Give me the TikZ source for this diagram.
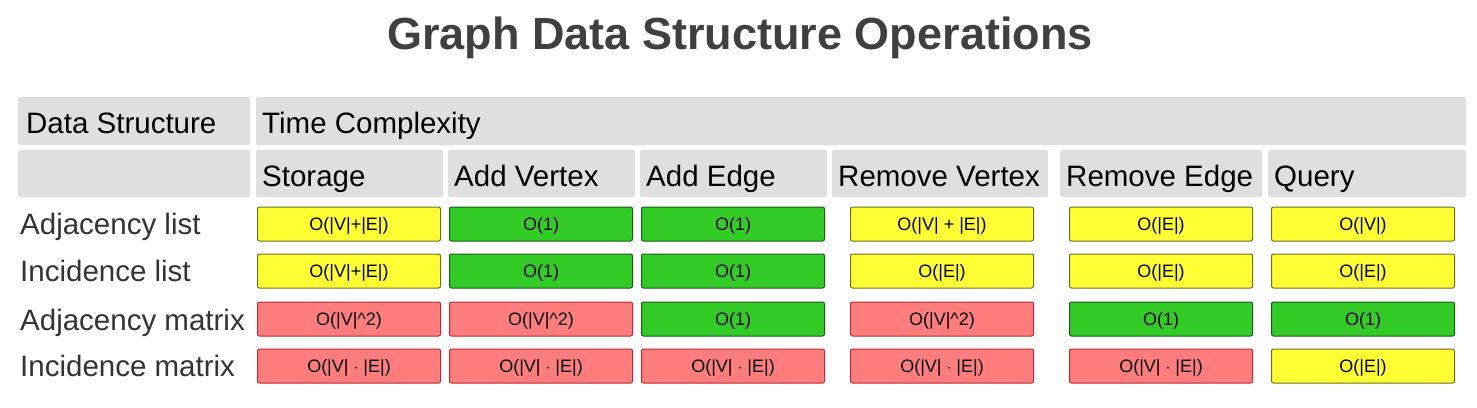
\documentclass[tikz,border=0pt]{standalone}
\usepackage{fontspec}
\setmainfont{Liberation Sans}
\begin{document}
\begin{tikzpicture}[x=1pt,y=-1pt,
 cell/.style={draw,rounded corners=2pt,minimum height=34pt,inner sep=0pt,line width=1pt,font=\fontsize{18}{20}\selectfont,text height=13pt,text depth=1pt},
 Y/.style={cell,fill={rgb,255:red,255;green,255;blue,51},draw={rgb,255:red,110;green,110;blue,30}},
 G/.style={cell,fill={rgb,255:red,51;green,204;blue,38},draw={rgb,255:red,25;green,90;blue,25}},
 R/.style={cell,fill={rgb,255:red,255;green,125;blue,125},draw={rgb,255:red,190;green,40;blue,50}},
 lab/.style={anchor=base west,inner sep=0pt,font=\fontsize{29.5}{31}\selectfont,text=black!80}]
\useasboundingbox (0,0) rectangle (1477,407);
\node[font=\bfseries\fontsize{45}{48}\selectfont,text=black!75] (title) at (740,38) {Graph Data Structure Operations};
% header boxes
\fill[gray!25,rounded corners=2pt] (18,97) rectangle (250,145);
\fill[gray!25,rounded corners=2pt] (256,97) rectangle (1466,145);
\node[lab,text=black] (h1) at (26,133) {Data Structure};
\node[lab,text=black] (h2) at (262,133) {Time Complexity};
\fill[gray!25,rounded corners=2pt] (18,150) rectangle (250,197);
\foreach \a/\b/\t/\n in {256/443/Storage/c1,448/635/Add Vertex/c2,640/827/Add Edge/c3,832/1048/Remove Vertex/c4,1060/1262/Remove Edge/c5,1268/1466/Query/c6}{
  \fill[gray!25,rounded corners=2pt] (\a,150) rectangle (\b,197);
  \node[lab,text=black] (\n) at (\a+6,186) {\t};
}
\node[lab] (r1) at (20,234) {Adjacency list};
\node[lab] (r2) at (20,281) {Incidence list};
\node[lab] (r3) at (20,330) {Adjacency matrix};
\node[lab] (r4) at (20,376) {Incidence matrix};
% cells
\def\W{183pt}
\node[Y,minimum width=\W] (a1) at (349,224) {O(|V|+|E|)};
\node[G,minimum width=\W] (a2) at (541,224) {O(1)};
\node[G,minimum width=\W] (a3) at (733,224) {O(1)};
\node[Y,minimum width=\W] (a4) at (942,224) {O(|V| + |E|)};
\node[Y,minimum width=\W] (a5) at (1161,224) {O(|E|)};
\node[Y,minimum width=\W] (a6) at (1363,224) {O(|V|)};
\node[Y,minimum width=\W] (b1) at (349,271) {O(|V|+|E|)};
\node[G,minimum width=\W] (b2) at (541,271) {O(1)};
\node[G,minimum width=\W] (b3) at (733,271) {O(1)};
\node[Y,minimum width=\W] (b4) at (942,271) {O(|E|)};
\node[Y,minimum width=\W] (b5) at (1161,271) {O(|E|)};
\node[Y,minimum width=\W] (b6) at (1363,271) {O(|E|)};
\node[R,minimum width=\W] (c1x) at (349,319) {O(|V|\textasciicircum 2)};
\node[R,minimum width=\W] (c2x) at (541,319) {O(|V|\textasciicircum 2)};
\node[G,minimum width=\W] (c3x) at (733,319) {O(1)};
\node[R,minimum width=\W] (c4x) at (942,319) {O(|V|\textasciicircum 2)};
\node[G,minimum width=\W] (c5x) at (1161,319) {O(1)};
\node[G,minimum width=\W] (c6x) at (1363,319) {O(1)};
\node[R,minimum width=\W] (d1) at (349,366) {O(|V| $\cdot$ |E|)};
\node[R,minimum width=\W] (d2) at (541,366) {O(|V| $\cdot$ |E|)};
\node[R,minimum width=\W] (d3) at (733,366) {O(|V| $\cdot$ |E|)};
\node[R,minimum width=\W] (d4) at (942,366) {O(|V| $\cdot$ |E|)};
\node[R,minimum width=\W] (d5) at (1161,366) {O(|V| $\cdot$ |E|)};
\node[Y,minimum width=\W] (d6) at (1363,366) {O(|E|)};
\end{tikzpicture}
\end{document}
